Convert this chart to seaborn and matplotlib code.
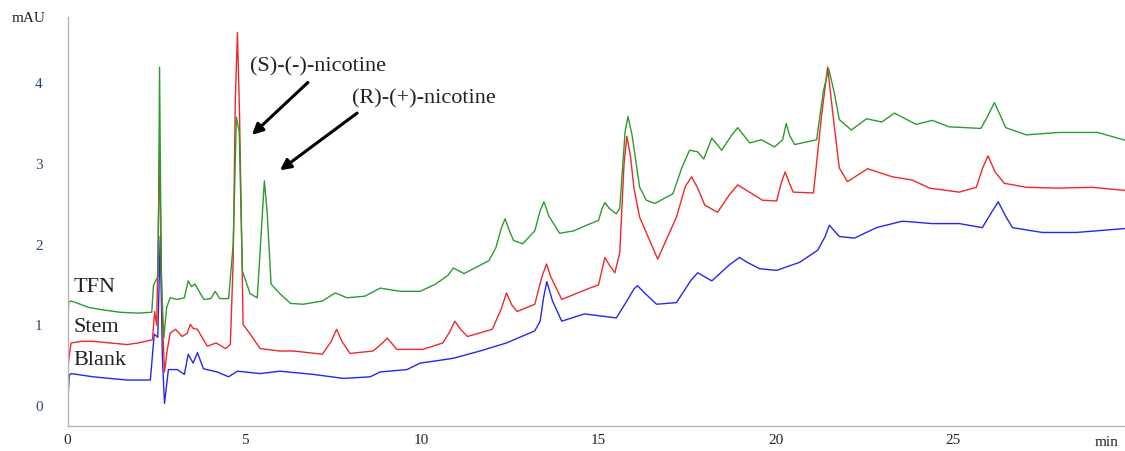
import pandas as pd
import numpy as np
import matplotlib
matplotlib.use("Agg")
import matplotlib.pyplot as plt
import seaborn as sns

# retention time (min) and absorbance (mAU)
tfn_t = [0.0, 0.03, 0.1, 0.3, 0.6, 1.0, 1.5, 2.0, 2.38, 2.43, 2.5, 2.56, 2.6, 2.65, 2.72, 2.8, 2.9,
         3.1, 3.3, 3.41, 3.5, 3.6, 3.85, 4.05, 4.17, 4.3, 4.55, 4.68, 4.77, 4.85, 4.94, 5.16, 5.36,
         5.48, 5.56, 5.64, 5.75, 6.0, 6.3, 6.66, 7.2, 7.56, 7.9, 8.4, 8.83, 9.4, 9.96, 10.4, 10.75,
         10.9, 11.2, 11.9, 12.1, 12.25, 12.36, 12.5, 12.6, 12.86, 13.2, 13.35, 13.46, 13.6, 13.9,
         14.3, 14.66, 15.0, 15.1, 15.18, 15.3, 15.5, 15.6, 15.75, 15.83, 15.95, 16.16, 16.35,
         16.59, 17.1, 17.35, 17.57, 17.8, 17.97, 18.2, 18.48, 18.75, 18.93, 19.27, 19.6, 19.97,
         20.2, 20.3, 20.4, 20.54, 21.16, 21.35, 21.5, 21.65, 21.8, 22.14, 22.57, 23.0, 23.36,
         23.97, 24.43, 24.9, 25.8, 26.0, 26.18, 26.35, 26.5, 27.08, 28.0, 29.1, 29.9]
tfn_v = [0.85, 1.28, 1.3, 1.27, 1.22, 1.19, 1.16, 1.15, 1.16, 1.5, 1.56, 1.6, 4.2, 1.6, 0.84, 1.22, 1.34,
         1.32, 1.34, 1.55, 1.48, 1.51, 1.32, 1.33, 1.42, 1.33, 1.33, 2.0, 3.58, 3.4, 1.67, 1.39, 1.34,
         2.2, 2.79, 2.4, 1.51, 1.39, 1.27, 1.26, 1.3, 1.4, 1.34, 1.36, 1.46, 1.42, 1.42, 1.51, 1.62,
         1.71, 1.64, 1.8, 1.96, 2.2, 2.32, 2.15, 2.05, 2.01, 2.17, 2.42, 2.53, 2.35, 2.14,
         2.17, 2.24, 2.3, 2.45, 2.52, 2.45, 2.38, 2.45, 3.4, 3.59, 3.35, 2.71, 2.55,
         2.51, 2.63, 2.95, 3.17, 3.15, 3.06, 3.32, 3.17, 3.35, 3.45, 3.26, 3.3, 3.21,
         3.3, 3.5, 3.35, 3.24, 3.3, 3.9, 4.18, 3.9, 3.55, 3.42, 3.56, 3.52, 3.63,
         3.49, 3.54, 3.46, 3.44, 3.6, 3.76, 3.6, 3.45, 3.36, 3.39, 3.39, 3.29]

stem_t = [0.0, 0.03, 0.1, 0.4, 0.73, 1.2, 1.69, 2.0, 2.4, 2.46, 2.52, 2.6, 2.67, 2.74, 2.82, 2.9,
          3.05, 3.24, 3.38, 3.47, 3.55, 3.67, 3.8, 3.95, 4.2, 4.46, 4.6, 4.68, 4.74, 4.8, 4.86,
          4.96, 5.16, 5.44, 6.0, 6.38, 6.8, 7.2, 7.45, 7.6, 7.75, 7.98, 8.63, 8.9, 9.03, 9.15, 9.3,
          10.04, 10.6, 10.8, 10.94, 11.1, 11.3, 12.0, 12.25, 12.4, 12.55, 12.7, 13.2, 13.4, 13.53,
          13.65, 13.96, 14.75, 15.0, 15.18, 15.3, 15.46, 15.6, 15.72, 15.8, 15.9, 16.0, 16.16,
          16.67, 17.2, 17.45, 17.63, 17.8, 18.0, 18.36, 18.7, 18.93, 19.63, 20.03, 20.15, 20.27,
          20.4, 20.5, 21.07, 21.3, 21.47, 21.65, 21.8, 22.03, 22.6, 23.3, 23.86, 24.35, 25.19,
          25.67, 25.85, 26.0, 26.2, 26.46, 27.08, 28.0, 28.94, 29.9]
stem_v = [0.45, 0.55, 0.78, 0.8, 0.8, 0.78, 0.76, 0.78, 0.82, 1.17, 1.0, 3.15, 1.2, 0.42, 0.7, 0.9,
          0.95, 0.86, 0.9, 1.01, 0.96, 0.95, 0.85, 0.74, 0.78, 0.71, 0.76, 1.8, 3.8, 4.63, 3.6,
          1.01, 0.89, 0.71, 0.68, 0.68, 0.66, 0.64, 0.8, 0.95, 0.8, 0.65, 0.68, 0.78, 0.84, 0.78, 0.7,
          0.7, 0.78, 0.92, 1.05, 0.95, 0.86, 0.95, 1.2, 1.4, 1.25, 1.17, 1.26, 1.6, 1.76,
          1.6, 1.32, 1.46, 1.5, 1.84, 1.75, 1.65, 1.9, 3.0, 3.34, 3.1, 2.7, 2.34,
          1.82, 2.34, 2.72, 2.84, 2.7, 2.49, 2.4, 2.62, 2.74, 2.55, 2.54, 2.75, 2.9,
          2.75, 2.65, 2.64, 3.6, 4.2, 3.5, 2.95, 2.78, 2.94, 2.84, 2.8, 2.7, 2.65,
          2.71, 2.95, 3.1, 2.9, 2.76, 2.71, 2.7, 2.71, 2.67]

blank_t = [0.0, 0.05, 0.1, 0.73, 1.2, 1.69, 2.34, 2.45, 2.55, 2.62, 2.68, 2.74, 2.85, 3.1, 3.3,
           3.41, 3.55, 3.67, 3.84, 4.23, 4.55, 4.8, 5.44, 6.0, 6.94, 7.8, 8.55, 8.83, 9.59, 9.96,
           10.44, 10.9, 11.65, 12.4, 13.2, 13.35, 13.45, 13.54, 13.7, 13.96, 14.6, 15.5, 15.8,
           16.0, 16.1, 16.3, 16.64, 17.2, 17.6, 17.8, 18.2, 18.7, 18.98, 19.2, 19.55, 20.03, 20.68,
           21.19, 21.4, 21.52, 21.8, 22.23, 22.85, 23.58, 24.43, 25.19, 25.84, 26.1, 26.29, 26.5,
           26.69, 27.53, 28.5, 29.9]
blank_v = [0.0, 0.38, 0.4, 0.36, 0.34, 0.32, 0.32, 0.89, 0.85, 2.1, 0.6, 0.03, 0.45, 0.45, 0.39,
           0.64, 0.53, 0.66, 0.46, 0.42, 0.36, 0.43, 0.4, 0.43, 0.39, 0.34, 0.36, 0.42, 0.45, 0.53,
           0.56, 0.59, 0.68, 0.78, 0.93, 1.05, 1.35, 1.54, 1.3, 1.05, 1.14, 1.09, 1.3,
           1.45, 1.49, 1.4, 1.26, 1.28, 1.55, 1.65, 1.55, 1.75, 1.84, 1.78, 1.7, 1.68, 1.78,
           1.93, 2.1, 2.24, 2.1, 2.08, 2.21, 2.29, 2.26, 2.26, 2.21, 2.4, 2.53, 2.35,
           2.21, 2.15, 2.15, 2.2]

samples = ["Blank", "Stem", "TFN"]
colors = {"TFN": "#2e9a2e", "Stem": "#f02828", "Blank": "#2626f0"}

df = pd.concat([
    pd.DataFrame({"time": blank_t, "mAU": blank_v, "sample": "Blank"}),
    pd.DataFrame({"time": stem_t, "mAU": stem_v, "sample": "Stem"}),
    pd.DataFrame({"time": tfn_t, "mAU": tfn_v, "sample": "TFN"}),
])

sns.set_theme(style="white")
plt.rcParams["font.family"] = ["Liberation Serif", "DejaVu Serif"]

fig = plt.figure(figsize=(11.25, 4.51), dpi=100)
ax = fig.add_axes([0.06, 0.0554, 0.94, 0.9066])

sns.lineplot(data=df, x="time", y="mAU", hue="sample", hue_order=samples,
             palette=colors, estimator=None, linewidth=1.0, legend=False, ax=ax)

ax.set_xlim(0, 29.87)
ax.set_ylim(-0.25, 4.82)
ax.set_xlabel("")
ax.set_ylabel("")

for s in ["top", "right"]:
    ax.spines[s].set_visible(False)
for s in ["left", "bottom"]:
    ax.spines[s].set_color("#b4b4b4")
    ax.spines[s].set_linewidth(1.0)

ax.set_xticks([0, 5, 10, 15, 20, 25])
ax.set_xticks(range(0, 30), minor=True)
ax.set_yticks([0, 1, 2, 3, 4])
ax.set_yticks(np.arange(-0.2, 4.81, 0.2), minor=True)
ax.tick_params(axis="x", which="major", direction="out", length=4, color="#a0a0a0",
               labelsize=11, labelcolor="#222222", pad=1.5)
ax.tick_params(axis="x", which="minor", direction="out", length=2.5, color="#b4b4b4")
ax.tick_params(axis="y", which="major", direction="out", length=6, color="#a0a0a0",
               labelsize=11, labelcolor="#2b4868", pad=12)
ax.tick_params(axis="y", which="minor", direction="out", length=3, color="#b4b4b4")

fig.text(12 / 1125, 1 - 22 / 451, "mAU", fontsize=11, color="#222222", va="baseline")
fig.text(1095 / 1125, 1 - 446 / 451, "min", fontsize=11, color="#222222", va="baseline")

ax.text(0.16, 1.41, "TFN", fontsize=16, color="#222222", va="baseline")
ax.text(0.16, 0.92, "Stem", fontsize=16, color="#222222", va="baseline")
ax.text(0.16, 0.51, "Blank", fontsize=16, color="#222222", va="baseline")

arrow = dict(arrowstyle="-|>", color="black", lw=2.2, mutation_scale=16, shrinkA=0, shrinkB=0)
ax.annotate("", xy=(5.21, 3.36), xytext=(6.79, 4.01), arrowprops=arrow)
ax.annotate("", xy=(6.0, 2.92), xytext=(8.18, 3.63), arrowprops=arrow)
ax.text(5.16, 4.14, "(S)-(-)-nicotine", fontsize=16, color="#222222", va="baseline")
ax.text(8.04, 3.75, "(R)-(+)-nicotine", fontsize=16, color="#222222", va="baseline")

fig.savefig("out.png", dpi=100)
